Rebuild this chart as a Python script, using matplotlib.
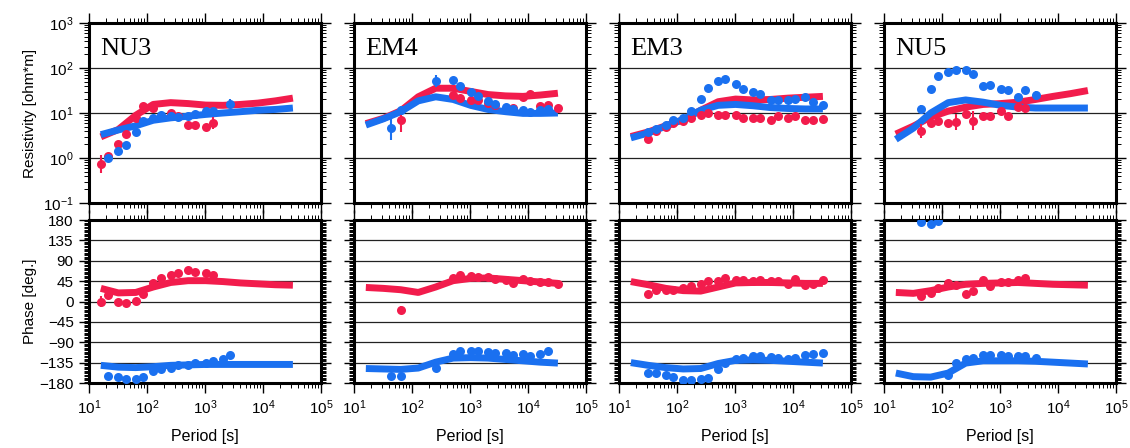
import numpy as np
import matplotlib
matplotlib.use("Agg")
import matplotlib.pyplot as plt
from matplotlib.ticker import LogLocator, MultipleLocator, NullFormatter

plt.rcParams['font.family'] = ['Liberation Sans', 'DejaVu Sans']
plt.rcParams['mathtext.fontset'] = 'custom'
plt.rcParams['mathtext.rm'] = 'Liberation Sans'
plt.rcParams['mathtext.it'] = 'Liberation Sans:italic'

RED = '#f21c4c'
BLUE = '#1a70f0'

stations = ['NU3', 'EM4', 'EM3', 'NU5']
model_T = [16, 32, 64, 128, 256, 512, 1024, 2048, 4096, 8192, 16384, 32768]

# ---- NU3 ----
nu3_rxy_T = [16, 21, 32, 43, 64, 85, 128, 256, 341, 512, 683, 1024, 1365]
nu3_rxy = [0.74, 1.1, 2.0, 3.4, 7.7, 14, 13, 10, 8.5, 5.3, 5.3, 4.8, 6.0]
nu3_rxy_err = [0.2, 0.05, 0, 0, 0, 0.05, 0, 0.03, 0, 0, 0, 0.05, 0.13]
nu3_ryx_T = [21, 32, 43, 64, 85, 128, 171, 256, 341, 512, 683, 1024, 1365, 2731]
nu3_ryx = [1.0, 1.4, 1.9, 3.8, 6.5, 7.7, 9.2, 8.5, 8.3, 8.5, 9.7, 11, 11, 16]
nu3_ryx_err = [0, 0, 0, 0, 0, 0, 0, 0, 0, 0, 0, 0, 0, 0.1]
nu3_pxy_T = [16, 21, 32, 43, 64, 85, 128, 171, 256, 341, 512, 683, 1024, 1365]
nu3_pxy = [0, 15, 0, -4, 1.5, 16, 40, 51, 59, 62, 69, 66, 64, 59]
nu3_pxy_err = [12, 3, 0, 0, 0, 0, 0, 0, 0, 0, 0, 0, 0, 5]
nu3_pyx_T = [21, 32, 43, 64, 85, 128, 171, 256, 341, 512, 683, 1024, 1365, 2048, 2731]
nu3_pyx = [-164, -166, -171, -171, -166, -153, -150, -146, -140, -140, -136, -135, -131, -128, -118]
nu3_pyx_err = [0, 0, 0, 0, 0, 0, 0, 0, 0, 0, 0, 0, 0, 0, 7]
nu3_mrxy = [2.95, 4.3, 8.9, 15.5, 17, 16.2, 15, 14.8, 15.5, 16.6, 18.6, 21.4]
nu3_mryx = [3.3, 4.2, 5.2, 6.9, 7.8, 8.5, 9.3, 10, 10.7, 11.5, 12, 12.9]
nu3_mpxy = [29, 19, 20, 32, 42, 46, 46, 44, 41, 39, 37, 36]
nu3_mpyx = [-141, -145, -146, -144, -141, -140, -139, -139, -139, -139, -139, -139]

# ---- EM4 ----
em4_rxy_T = [64, 512, 683, 1024, 1365, 2048, 2731, 5461, 8192, 10923, 16384, 21845, 32768]
em4_rxy = [6.9, 25, 22, 19, 19, 17, 15, 13, 23, 26, 14, 15, 13]
em4_rxy_err = [0.25, 0.04, 0.04, 0, 0, 0, 0, 0, 0.04, 0.05, 0, 0.04, 0.03]
em4_ryx_T = [43, 64, 256, 512, 683, 1024, 1365, 2048, 2731, 4096, 5461, 8192, 10923, 16384, 21845]
em4_ryx = [4.7, 11.5, 51, 55, 39, 29, 24, 18.5, 15.6, 13.6, 12.5, 11.5, 10.5, 11.8, 12.5]
em4_ryx_err = [0.28, 0.05, 0.14, 0, 0, 0, 0, 0, 0, 0, 0, 0, 0.03, 0.03, 0.03]
em4_pxy_T = [64, 512, 683, 1024, 1365, 2048, 2731, 4096, 5461, 8192, 10923, 16384, 21845, 32768]
em4_pxy = [-19, 52, 58, 57, 55, 55, 49, 48, 40, 49, 46, 44, 43, 38]
em4_pxy_err = [9, 0, 0, 0, 0, 0, 0, 0, 0, 0, 0, 0, 0, 0]
em4_pyx_T = [43, 64, 256, 512, 683, 1024, 1365, 2048, 2731, 4096, 5461, 8192, 10923, 16384, 21845]
em4_pyx = [-164, -164, -146, -115, -109, -109, -110, -111, -113, -114, -119, -116, -121, -116, -110]
em4_pyx_err = [6, 0, 6, 0, 0, 0, 0, 0, 0, 0, 0, 0, 0, 0, 0]
em4_mrxy = [5.8, 7.6, 11.2, 22.9, 35.5, 35.5, 30.2, 25.7, 24, 23.4, 25.1, 27.5]
em4_mryx = [5.4, 7.4, 10.7, 18.6, 22.9, 20, 14.8, 12, 10.7, 9.8, 9.8, 10]
em4_mpxy = [31, 29, 26, 20, 32, 46, 51, 52, 49, 46, 43, 40]
em4_mpyx = [-148, -149, -150, -147, -134, -125, -124, -125, -128, -131, -134, -136]

# ---- EM3 ----
em3_T = [32, 43, 64, 85, 128, 171, 256, 341, 512, 683, 1024, 1365, 2048, 2731,
         4096, 5461, 8192, 10923, 16384, 21845, 32768]
em3_rxy = [2.6, 4.0, 4.9, 5.9, 6.8, 7.9, 9.1, 9.8, 9.1, 9.1, 9.1, 7.9, 7.9, 7.6,
           6.9, 8.7, 7.8, 8.7, 7.1, 7.1, 7.4]
em3_rxy_err = [0.04, 0, 0, 0, 0, 0, 0, 0, 0, 0, 0, 0, 0, 0, 0, 0.03, 0.03, 0.06, 0, 0, 0]
em3_ryx = [3.7, 4.4, 5.5, 6.9, 7.8, 11, 20, 36, 52, 56, 45, 35, 29, 26,
           19.5, 19, 19.5, 21, 23, 18, 15]
em3_ryx_err = [0] * 21
em3_pxy = [15.5, 25, 25, 25, 30, 34, 38, 45, 45, 51, 47, 47, 45, 47,
           45, 45, 38, 50, 36, 38, 47]
em3_pxy_err = [3, 0, 0, 0, 0, 0, 0, 0, 0, 0, 0, 0, 0, 0, 0, 0, 3, 6, 0, 0, 0]
em3_pyx = [-157, -158, -163, -166, -173, -173, -172, -169, -150, -135, -126, -124, -121, -121,
           -123, -124, -126, -124, -119, -117, -113]
em3_pyx_err = [0] * 21
em3_mrxy = [3.0, 3.8, 5.2, 7.1, 11.5, 17.8, 20.4, 19.5, 20, 21.4, 22.4, 23.4]
em3_mryx = [2.8, 3.6, 5.1, 7.2, 11.5, 14.8, 15.5, 14.5, 13.2, 12.6, 12.3, 12.3]
em3_mpxy = [44, 37, 29, 24, 23, 32, 41, 42, 42, 41, 40, 40]
em3_mpyx = [-135, -141, -146, -149, -148, -137, -130, -129, -130, -132, -134, -136]

# ---- NU5 ----
nu5_rxy_T = [43, 64, 85, 128, 171, 256, 341, 512, 683, 1024, 1365, 2048, 2731]
nu5_rxy = [4.0, 5.9, 6.8, 5.9, 6.2, 9.5, 6.8, 8.7, 8.7, 11, 8.7, 13.8, 12.6]
nu5_rxy_err = [0.15, 0.03, 0.03, 0.05, 0.18, 0.08, 0.22, 0, 0, 0, 0.05, 0.05, 0.1]
nu5_ryx_T = [43, 64, 85, 128, 171, 256, 341, 512, 683, 1024, 1365, 2048, 2731, 4096]
nu5_ryx = [12.3, 35, 65, 83, 91, 91, 74, 39, 41, 35, 32, 23, 32, 25]
nu5_ryx_err = [0.08, 0, 0, 0.03, 0.05, 0.03, 0.05, 0, 0, 0, 0, 0, 0.04, 0.1]
nu5_pxy_T = [43, 64, 85, 128, 171, 256, 341, 512, 683, 1024, 1365, 2048, 2731]
nu5_pxy = [12.5, 19, 30, 40, 36, 15.5, 23, 47, 35, 42, 42, 47, 51]
nu5_pxy_err = [6, 3, 3, 6, 5, 6, 6, 0, 0, 0, 0, 3, 5]
nu5_pyx_T = [43, 64, 85, 128, 171, 256, 341, 512, 683, 1024, 1365, 2048, 2731, 4096]
nu5_pyx = [175, 171, 178, -162, -135, -126, -124, -118, -118, -118, -120, -121, -121, -124]
nu5_pyx_err = [0, 0, 0, 0, 4, 0, 0, 0, 0, 0, 0, 0, 0, 3]
nu5_mrxy = [3.4, 5.1, 8.1, 11, 13.5, 15.5, 16.2, 17.4, 20, 23.4, 26.9, 31.6]
nu5_mryx = [2.6, 4.6, 10, 17, 19.5, 17.4, 14.8, 13.5, 12.9, 12.9, 12.9, 12.9]
nu5_mpxy = [20, 18, 24, 32, 38, 40, 41, 42, 40, 38, 37, 36]
nu5_mpyx = [-158, -166, -167, -158, -136, -131, -131, -131, -132, -134, -136, -138]

panels = [
    (nu3_rxy_T, nu3_rxy, nu3_rxy_err, nu3_ryx_T, nu3_ryx, nu3_ryx_err,
     nu3_pxy_T, nu3_pxy, nu3_pxy_err, nu3_pyx_T, nu3_pyx, nu3_pyx_err,
     nu3_mrxy, nu3_mryx, nu3_mpxy, nu3_mpyx),
    (em4_rxy_T, em4_rxy, em4_rxy_err, em4_ryx_T, em4_ryx, em4_ryx_err,
     em4_pxy_T, em4_pxy, em4_pxy_err, em4_pyx_T, em4_pyx, em4_pyx_err,
     em4_mrxy, em4_mryx, em4_mpxy, em4_mpyx),
    (em3_T, em3_rxy, em3_rxy_err, em3_T, em3_ryx, em3_ryx_err,
     em3_T, em3_pxy, em3_pxy_err, em3_T, em3_pyx, em3_pyx_err,
     em3_mrxy, em3_mryx, em3_mpxy, em3_mpyx),
    (nu5_rxy_T, nu5_rxy, nu5_rxy_err, nu5_ryx_T, nu5_ryx, nu5_ryx_err,
     nu5_pxy_T, nu5_pxy, nu5_pxy_err, nu5_pyx_T, nu5_pyx, nu5_pyx_err,
     nu5_mrxy, nu5_mryx, nu5_mpxy, nu5_mpyx),
]


def style_axes(ax):
    ax.set_xscale('log')
    ax.set_xlim(10, 1e5)
    ax.xaxis.set_major_locator(LogLocator(base=10, numticks=10))
    ax.xaxis.set_minor_locator(LogLocator(base=10, subs=range(2, 10), numticks=20))
    ax.xaxis.set_minor_formatter(NullFormatter())
    for s in ax.spines.values():
        s.set_linewidth(2.2)
    ax.tick_params(which='both', direction='out', top=True, right=True,
                   labelsize=11, pad=4)
    ax.tick_params(which='major', length=7, width=1)
    ax.tick_params(which='minor', length=3.5, width=0.7)
    ax.yaxis.grid(True, which='major', color='#222222', lw=0.9)
    ax.set_axisbelow(True)


fig = plt.figure(figsize=(11.3, 4.48), dpi=100)
W, H = 1130.0, 448.0
lefts = [89, 354, 619, 884]
pw = 232

for i, (name, p) in enumerate(zip(stations, panels)):
    (rT1, r1, re1, rT2, r2, re2, pT1, p1, pe1, pT2, p2, pe2,
     mr1, mr2, mp1, mp2) = p
    axr = fig.add_axes([lefts[i] / W, (H - 203) / H, pw / W, 180 / H])
    axp = fig.add_axes([lefts[i] / W, (H - 383) / H, pw / W, 163 / H])

    # resistivity
    style_axes(axr)
    axr.set_yscale('log')
    axr.set_ylim(0.1, 1000)
    axr.yaxis.set_major_locator(LogLocator(base=10, numticks=10))
    axr.yaxis.set_minor_locator(LogLocator(base=10, subs=range(2, 10), numticks=20))
    axr.yaxis.set_minor_formatter(NullFormatter())
    axr.tick_params(labelbottom=False)
    axr.plot(model_T, mr1, color=RED, lw=5, solid_capstyle='butt',
             solid_joinstyle='round', zorder=2)
    axr.plot(model_T, mr2, color=BLUE, lw=5, solid_capstyle='butt',
             solid_joinstyle='round', zorder=3)
    for T, r, e, c, z in [(rT1, r1, re1, RED, 4), (rT2, r2, re2, BLUE, 5)]:
        r = np.array(r, float)
        e = np.array(e, float)
        yerr = [r - r * 10 ** (-e), r * 10 ** e - r]
        axr.errorbar(T, r, yerr=yerr, fmt='o', color=c, ms=6.5, mew=0,
                     elinewidth=1.5, capsize=2.5, capthick=1.5, zorder=z)
    axr.text(0.05, 0.855, name, transform=axr.transAxes, ha='left', va='center',
             fontsize=19, family=['Liberation Serif', 'DejaVu Serif'])

    # phase
    style_axes(axp)
    axp.set_ylim(-180, 180)
    axp.yaxis.set_major_locator(MultipleLocator(45))
    axp.yaxis.set_minor_locator(MultipleLocator(3))
    axp.plot(model_T, mp1, color=RED, lw=5, solid_capstyle='butt',
             solid_joinstyle='round', zorder=2)
    axp.plot(model_T, mp2, color=BLUE, lw=5, solid_capstyle='butt',
             solid_joinstyle='round', zorder=3)
    for T, v, e, c, z in [(pT1, p1, pe1, RED, 4), (pT2, p2, pe2, BLUE, 5)]:
        axp.errorbar(T, v, yerr=e, fmt='o', color=c, ms=6.5, mew=0,
                     elinewidth=1.5, capsize=2.5, capthick=1.5, zorder=z)
    axp.set_xlabel('Period [s]', fontsize=11.5, labelpad=9)

    if i == 0:
        axr.set_ylabel('Resistivity [ohm*m]', fontsize=11, labelpad=4)
        axp.set_ylabel('Phase [deg.]', fontsize=11, labelpad=2)
    else:
        axr.tick_params(labelleft=False)
        axp.tick_params(labelleft=False)

fig.savefig('out.png', dpi=100)
